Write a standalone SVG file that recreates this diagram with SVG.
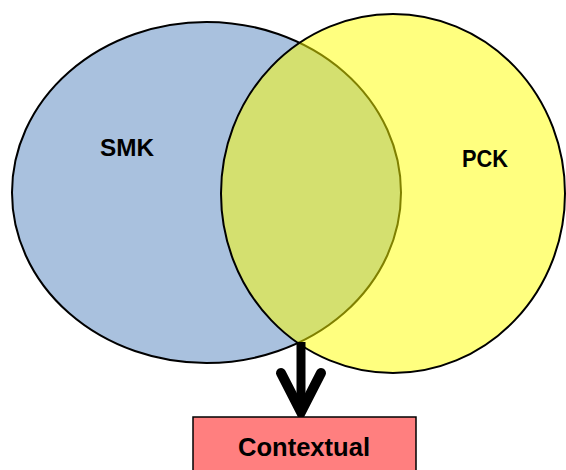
<svg xmlns="http://www.w3.org/2000/svg" width="566" height="470" viewBox="0 0 566 470">
<style>
.lbl{font-family:"Liberation Sans",Arial,sans-serif;font-weight:bold;fill:#000;text-anchor:middle}
</style>
<rect width="566" height="470" fill="#fff"/>
<g id="smk">
<ellipse cx="206.5" cy="192.5" rx="194.5" ry="170.5" fill="#A9C1DE" stroke="#000" stroke-width="2"/>
<text class="lbl" x="127" y="156" font-size="24" textLength="54" lengthAdjust="spacingAndGlyphs">SMK</text>
</g>
<g id="pck">
<ellipse cx="393" cy="193.5" rx="172" ry="179.5" fill="#FFFF00" fill-opacity="0.5" stroke="#000" stroke-width="2"/>
<text class="lbl" x="485" y="167" font-size="24" textLength="46" lengthAdjust="spacingAndGlyphs">PCK</text>
</g>
<g id="connectors">
<path d="M301 342 V411" stroke="#000" stroke-width="9" fill="none"/>
<path d="M281 373 L301 412 L321 373" stroke="#000" stroke-width="10" fill="none" stroke-linecap="round" stroke-linejoin="miter"/>
</g>
<g id="contextual">
<rect x="193" y="417" width="223" height="60" fill="#FF7F7F" stroke="#000" stroke-width="1.5"/>
<text class="lbl" x="304" y="455.5" font-size="26" textLength="132" lengthAdjust="spacingAndGlyphs">Contextual</text>
</g>
</svg>
